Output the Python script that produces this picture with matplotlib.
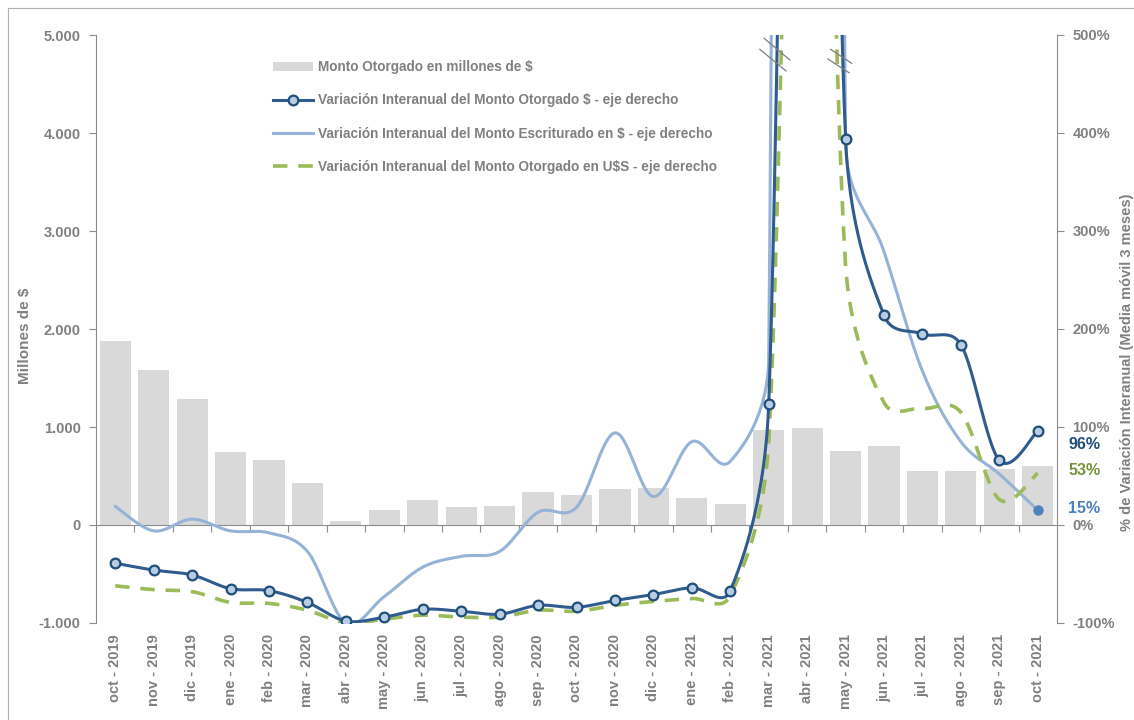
import numpy as np
import matplotlib
matplotlib.use("Agg")
import matplotlib.pyplot as plt
from matplotlib.lines import Line2D
from matplotlib.patches import Patch
from matplotlib.ticker import FuncFormatter

plt.rcParams["font.family"] = ["Liberation Sans", "DejaVu Sans"]
plt.rcParams["font.weight"] = "bold"

# ---------------------------------------------------------------- data
periodos = ["oct - 2019", "nov - 2019", "dic - 2019", "ene - 2020", "feb - 2020",
            "mar - 2020", "abr - 2020", "may - 2020", "jun - 2020", "jul - 2020",
            "ago - 2020", "sep - 2020", "oct - 2020", "nov - 2020", "dic - 2020",
            "ene - 2021", "feb - 2021", "mar - 2021", "abr - 2021", "may - 2021",
            "jun - 2021", "jul - 2021", "ago - 2021", "sep - 2021", "oct - 2021"]

# Monto otorgado, millones de $ (eje izquierdo)
monto_otorgado = [1878, 1582, 1286, 745, 663, 432, 44, 150, 252, 187, 190, 340, 306,
                  367, 374, 272, 214, 970, 991, 758, 806, 554, 551, 568, 602]

# Variaciones interanuales, % (eje derecho, media movil 3 meses)
var_otorgado = [-39, -46, -51, -65, -67, -79, -98, -94, -86, -88, -91, -82, -84,
                -77, -71, -64, -67, 123, 2000, 394, 214, 195, 184, 66, 96]
var_escriturado = [19, -6, 6, -6, -8, -27, -100, -73, -43, -32, -27, 13, 18,
                   94, 29, 85, 65, 170, 8000, 392, 279, 157, 85, 52, 15]
var_otorgado_usd = [-62, -66, -68, -79, -80, -87, -100, -96, -92, -94, -94, -87, -88,
                    -82, -78, -75, -72, 85, 1300, 265, 125, 119, 115, 26, 53]

GREY_TXT = "#808080"
GREY_AX = "#8c8c8c"
BAR = "#d9d9d9"
DARK = "#2f5b8f"
LIGHT = "#95b3d7"
GREEN = "#9bbb59"
FS = 10.5
FS_LEG = 9.8

# ---------------------------------------------------------------- figure
fig = plt.figure(figsize=(11.34, 7.20), dpi=100)
ax = fig.add_axes([96 / 1134, 1 - 623 / 720, (1057 - 96) / 1134, (623 - 35) / 720])
ax2 = ax.twinx()

x = np.arange(len(periodos))
ax.set_xlim(-0.5, len(periodos) - 0.5)
ax.set_ylim(-1000, 5000)
ax2.set_ylim(-100, 500)

ax.bar(x, monto_otorgado, width=0.81, color=BAR, zorder=2)

# axes styling
for a in (ax, ax2):
    a.spines["top"].set_visible(False)
ax.spines["right"].set_visible(False)
ax2.spines["left"].set_visible(False)
ax2.spines["bottom"].set_visible(False)
ax.spines["left"].set_color(GREY_AX)
ax2.spines["right"].set_color(GREY_AX)
ax.spines["bottom"].set_position(("data", 0))
ax.spines["bottom"].set_color(GREY_AX)
ax.spines["bottom"].set_zorder(3)

ax.set_yticks(np.arange(-1000, 5001, 1000))
ax.yaxis.set_major_formatter(FuncFormatter(lambda v, p: f"{int(v):,}".replace(",", ".")))
ax2.set_yticks(np.arange(-100, 501, 100))
ax2.yaxis.set_major_formatter(FuncFormatter(lambda v, p: f"{int(v)}%"))
ax.tick_params(axis="y", direction="out", length=5, color=GREY_AX,
               labelcolor=GREY_TXT, labelsize=FS, pad=6)
ax2.tick_params(axis="y", direction="out", length=5, color=GREY_AX,
                labelcolor=GREY_TXT, labelsize=FS, pad=6)

# boundary ticks on the zero line
ax.set_xticks(np.arange(0.5, len(periodos) - 1, 1.0))
ax.set_xticklabels([])
ax.tick_params(axis="x", direction="out", length=5, color=GREY_AX)

# category labels along the bottom
sec = ax.secondary_xaxis("bottom")
sec.set_xticks(x)
sec.set_xticklabels(periodos, rotation=90, fontsize=FS, color=GREY_TXT, fontweight="bold")
sec.tick_params(length=0, pad=8)
sec.spines["bottom"].set_visible(False)

fig.text(25 / 1134, 1 - 336 / 720, "Millones de $", rotation=90, ha="center",
         va="center", color=GREY_TXT, fontsize=11, fontweight="bold")
fig.text(1127 / 1134, 1 - 362 / 720, "% de Variación Interanual (Media móvil 3 meses)",
         rotation=90, ha="center", va="center", color=GREY_TXT, fontsize=FS,
         fontweight="bold")


# ---------------------------------------------------------------- smoothed lines
def smooth_curve(axis, xs, ys, n=60):
    """Bezier smoothing computed in screen space, returned in data units."""
    P = axis.transData.transform(np.column_stack([xs, ys]).astype(float))
    out = [P[0]]
    m = len(P)
    t = np.linspace(0, 1, n)[1:, None]
    for i in range(m - 1):
        p1, p2 = P[i], P[i + 1]
        p0 = P[i - 1] if i > 0 else p1
        p3 = P[i + 2] if i + 2 < m else p2
        d02 = np.hypot(*(p2 - p0))
        d12 = np.hypot(*(p2 - p1))
        d13 = np.hypot(*(p3 - p1))
        f1 = 1 / 6 if d02 / 6 < d12 / 2 else d12 / (2 * d02)
        f2 = 1 / 6 if d13 / 6 < d12 / 2 else d12 / (2 * d13)
        c1 = p1 + (p2 - p0) * f1
        c2 = p2 - (p3 - p1) * f2
        seg = ((1 - t) ** 3) * p1 + 3 * ((1 - t) ** 2) * t * c1 \
            + 3 * (1 - t) * t ** 2 * c2 + t ** 3 * p2
        out.extend(seg)
    return axis.transData.inverted().transform(np.array(out))


c_esc = smooth_curve(ax2, x, var_escriturado)
c_usd = smooth_curve(ax2, x, var_otorgado_usd)
c_otg = smooth_curve(ax2, x, var_otorgado)

ax2.plot(c_esc[:, 0], c_esc[:, 1], color=LIGHT, lw=2.2, zorder=3,
         solid_capstyle="round")
ax2.plot(c_usd[:, 0], c_usd[:, 1], color=GREEN, lw=2.6, zorder=3,
         dashes=(4, 3))
ax2.plot(c_otg[:, 0], c_otg[:, 1], color=DARK, lw=2.2, zorder=4)
ax2.plot(x, var_otorgado, "o", ms=7, mfc="#b8cce4", mec="#1f4e79", mew=1.6, zorder=5)
ax2.plot(x[-1], var_escriturado[-1], "o", ms=6.5, mfc="#4f81bd", mec="#4f81bd", zorder=5)

# end-of-series value labels
lbl_tr = ax2.get_yaxis_transform()
ax2.annotate(f"{var_otorgado[-1]}%", xy=(1.0, var_otorgado[-1]), xycoords=lbl_tr,
             xytext=(8, -9.5), textcoords="offset points", ha="left", va="center",
             color="#1f4e79", fontsize=11.5, fontweight="bold", annotation_clip=False)
ax2.annotate(f"{var_otorgado_usd[-1]}%", xy=(1.0, var_otorgado_usd[-1]), xycoords=lbl_tr,
             xytext=(8, 2), textcoords="offset points", ha="left", va="center",
             color="#76923c", fontsize=11.5, fontweight="bold", annotation_clip=False)
ax2.annotate(f"{var_escriturado[-1]}%", xy=(1.0, var_escriturado[-1]), xycoords=lbl_tr,
             xytext=(8, 1.5), textcoords="offset points", ha="left", va="center",
             color="#4f81bd", fontsize=11.5, fontweight="bold", annotation_clip=False)

# axis-break marks where the series leave the scale
for (xa, ya, xb, yb) in [(16.88, 496.6, 17.55, 474.5), (16.77, 485.4, 17.45, 463.3),
                         (18.61, 485.4, 19.16, 471.1), (18.54, 475.5, 19.09, 461.5)]:
    ax2.plot([xa, xb], [ya, yb], color="#7f7f7f", lw=0.9, zorder=6, clip_on=False)

# legend
handles = [
    Patch(facecolor=BAR, edgecolor="none"),
    Line2D([], [], color=DARK, lw=2.2, marker="o", ms=7, mfc="#b8cce4", mec="#1f4e79", mew=1.6),
    Line2D([], [], color=LIGHT, lw=2.2),
    Line2D([], [], color=GREEN, lw=2.6, dashes=(4, 3)),
]
texts = ["Monto Otorgado en millones de $",
         "Variación Interanual del Monto Otorgado $ - eje derecho",
         "Variación Interanual del Monto Escriturado en $ - eje derecho",
         "Variación Interanual del Monto Otorgado en U$S - eje derecho"]
leg = ax2.legend(handles, texts, loc="upper left", bbox_to_anchor=(273 / 1134, 1 - 60 / 720),
                 bbox_transform=fig.transFigure, frameon=False, fontsize=FS_LEG,
                 labelcolor=GREY_TXT, handlelength=2.94, handleheight=0.6,
                 handletextpad=0.37, labelspacing=1.42, borderpad=0, borderaxespad=0)
for tx in leg.get_texts():
    tx.set_fontweight("bold")

# outer frame
fig.add_artist(Line2D([7.5 / 1134, 7.5 / 1134], [0, 1 - 7.5 / 720], color="#b0b0b0", lw=0.8))
fig.add_artist(Line2D([7.5 / 1134, 1], [1 - 7.5 / 720, 1 - 7.5 / 720], color="#b0b0b0", lw=0.8))

fig.savefig("out.png", dpi=100)
